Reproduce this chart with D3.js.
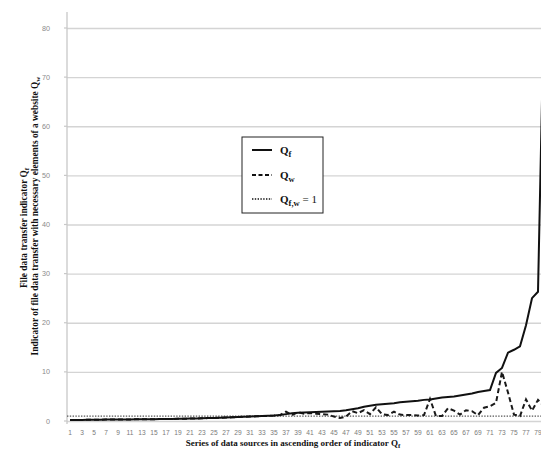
<!DOCTYPE html>
<html>
<head>
<meta charset="utf-8">
<script src="https://cdn.jsdelivr.net/npm/d3@7"></script>
<style>
  html, body { margin: 0; padding: 0; background: #fff; }
  svg { display: block; }
</style>
</head>
<body>
<svg id="chart" width="541" height="450"></svg>
<script>
// Data sources 1..80, sorted ascending by the file transfer indicator Qf
const categories = d3.range(1, 81);

const qf = [
  0.2, 0.2, 0.2, 0.25, 0.25, 0.25, 0.3, 0.3, 0.3, 0.3,
  0.3, 0.35, 0.35, 0.35, 0.35, 0.4, 0.4, 0.4, 0.45, 0.45,
  0.5, 0.5, 0.55, 0.6, 0.6, 0.65, 0.7, 0.75, 0.8, 0.85,
  0.9, 0.95, 1.0, 1.05, 1.1, 1.2, 1.4, 1.6, 1.7, 1.75,
  1.8, 1.85, 1.9, 1.95, 2.0, 2.05, 2.2, 2.4, 2.6, 2.9,
  3.1, 3.3, 3.4, 3.5, 3.6, 3.8, 3.9, 4.0, 4.1, 4.3,
  4.4, 4.6, 4.8, 4.9, 5.0, 5.2, 5.4, 5.6, 5.9, 6.1,
  6.3, 9.8, 10.8, 13.9, 14.5, 15.2, 19.5, 25.0, 26.3, 85
];

const qw = [
  0.2, 0.2, 0.2, 0.25, 0.25, 0.25, 0.3, 0.3, 0.3, 0.3,
  0.3, 0.35, 0.35, 0.35, 0.35, 0.4, 0.4, 0.4, 0.45, 0.45,
  0.5, 0.5, 0.55, 0.6, 0.6, 0.65, 0.7, 0.75, 0.8, 0.85,
  0.9, 0.95, 1.0, 1.05, 1.1, 1.2, 1.9, 1.2, 1.8, 1.5,
  1.6, 1.5, 1.4, 1.3, 0.9, 0.6, 0.9, 2.0, 1.6, 2.2,
  1.4, 2.8, 1.4, 1.2, 1.9, 1.3, 1.2, 1.2, 1.1, 1.2,
  4.5, 1.0, 1.0, 2.6, 2.1, 1.3, 2.2, 2.0, 1.2, 2.7,
  3.0, 3.7, 10.0, 5.8, 1.3, 1.0, 4.4, 2.1, 4.3, 3.0
];

const reference = 1;            // Qf,w = 1
const yTicks = [0, 10, 20, 30, 40, 50, 60, 70, 80];
const xTickLabels = categories.filter(d => d % 2 === 1);

const svg = d3.select("#chart");

const plot = { left: 67, top: 12, bottom: 421 };
const bandStep = 6;

const x = d3.scaleBand()
  .domain(categories)
  .range([plot.left, plot.left + categories.length * bandStep])
  .paddingInner(0)
  .paddingOuter(0);

const y = d3.scaleLinear().domain([0, 80]).range([plot.bottom, 28]);

const cx = d => x(d) + x.bandwidth() / 2;

// Horizontal gridlines
const grid = svg.append("g")
  .attr("transform", `translate(${plot.left},0)`)
  .call(d3.axisLeft(y).tickValues(yTicks).tickSize(-(541 - plot.left)).tickFormat(""));
grid.select(".domain").remove();
grid.selectAll(".tick line").attr("stroke", "#d4d4d4").attr("stroke-width", 1.4);

// Y axis line with small outer ticks
svg.append("line")
  .attr("x1", plot.left).attr("x2", plot.left)
  .attr("y1", plot.top).attr("y2", plot.bottom + 3)
  .attr("stroke", "#c8c8c8").attr("stroke-width", 1.3);
svg.append("g").selectAll("line").data(yTicks).join("line")
  .attr("x1", plot.left - 3).attr("x2", plot.left)
  .attr("y1", d => y(d)).attr("y2", d => y(d))
  .attr("stroke", "#c8c8c8").attr("stroke-width", 1.2);

// Y tick labels
svg.append("g").selectAll("text").data(yTicks).join("text")
  .attr("x", 50).attr("y", d => y(d) + 2.5)
  .attr("text-anchor", "end")
  .attr("font-family", "Liberation Sans, Arial, sans-serif")
  .attr("font-size", 7.2)
  .attr("fill", "#8a8a8a")
  .text(d => d);

// X axis labels (every other category)
const xAxis = svg.append("g")
  .attr("transform", `translate(0,${plot.bottom})`)
  .call(d3.axisBottom(x).tickValues(xTickLabels).tickSize(0).tickPadding(9));
xAxis.select(".domain").remove();
xAxis.selectAll("text")
  .attr("font-family", "Liberation Sans, Arial, sans-serif")
  .attr("font-size", 6.6)
  .attr("fill", "#7a7a7a");

// Reference line Qf,w = 1
svg.append("line")
  .attr("x1", plot.left).attr("x2", 541)
  .attr("y1", y(reference)).attr("y2", y(reference))
  .attr("stroke", "#555").attr("stroke-width", 1.4)
  .attr("stroke-dasharray", "1.4,1.4");

const line = d3.line().x((d, i) => cx(categories[i])).y(d => y(d));

// Qw series (dashed)
svg.append("path")
  .datum(qw)
  .attr("d", line)
  .attr("fill", "none")
  .attr("stroke", "#1a1a1a")
  .attr("stroke-width", 2)
  .attr("stroke-dasharray", "5,3");

// Qf series (solid)
svg.append("path")
  .datum(qf)
  .attr("d", line)
  .attr("fill", "none")
  .attr("stroke", "#111")
  .attr("stroke-width", 2);

// Legend
const legend = svg.append("g");
legend.append("rect")
  .attr("x", 242).attr("y", 137).attr("width", 81).attr("height", 76)
  .attr("fill", "#fff").attr("stroke", "#222").attr("stroke-width", 1);

const legendItems = [
  { sub: "f", tail: "", dash: null, y: 150, width: 2 },
  { sub: "w", tail: "", dash: "4,2.5", y: 175, width: 2 },
  { sub: "f,w", tail: " = 1", dash: "1.4,1.4", y: 199, width: 1.4 }
];
legendItems.forEach(it => {
  legend.append("line")
    .attr("x1", 252).attr("x2", 272)
    .attr("y1", it.y).attr("y2", it.y)
    .attr("stroke", "#111").attr("stroke-width", it.width)
    .attr("stroke-dasharray", it.dash);
  const t = legend.append("text")
    .attr("x", 280).attr("y", it.y + 3.5)
    .attr("font-family", "Liberation Serif, Times New Roman, serif")
    .attr("font-weight", "bold")
    .attr("font-size", 11)
    .attr("fill", "#111");
  t.append("tspan").text("Q");
  t.append("tspan").attr("font-size", 8.5).attr("dy", 3).text(it.sub);
  if (it.tail) t.append("tspan").attr("dy", -3).attr("font-weight", "normal").text(it.tail);
});

// Axis titles
function titleWithSub(g, main, sub) {
  g.append("tspan").text(main);
  g.append("tspan").attr("font-size", 7).attr("dy", 2).text(sub);
}

const xt = svg.append("text")
  .attr("x", 293).attr("y", 446)
  .attr("text-anchor", "middle")
  .attr("font-family", "Liberation Serif, Times New Roman, serif")
  .attr("font-weight", "bold")
  .attr("font-size", 9)
  .attr("fill", "#111");
titleWithSub(xt, "Series of data sources in ascending order of indicator Q", "f");

const yt1 = svg.append("text")
  .attr("transform", "translate(27,228) rotate(-90)")
  .attr("text-anchor", "middle")
  .attr("font-family", "Liberation Serif, Times New Roman, serif")
  .attr("font-weight", "bold")
  .attr("font-size", 9.4)
  .attr("fill", "#111");
titleWithSub(yt1, "File data transfer indicator Q", "f");

const yt2 = svg.append("text")
  .attr("transform", "translate(38,216) rotate(-90)")
  .attr("text-anchor", "middle")
  .attr("font-family", "Liberation Serif, Times New Roman, serif")
  .attr("font-weight", "bold")
  .attr("font-size", 9.4)
  .attr("fill", "#111");
titleWithSub(yt2, "Indicator of file data transfer with necessary elements of a website Q", "w");
</script>
</body>
</html>
